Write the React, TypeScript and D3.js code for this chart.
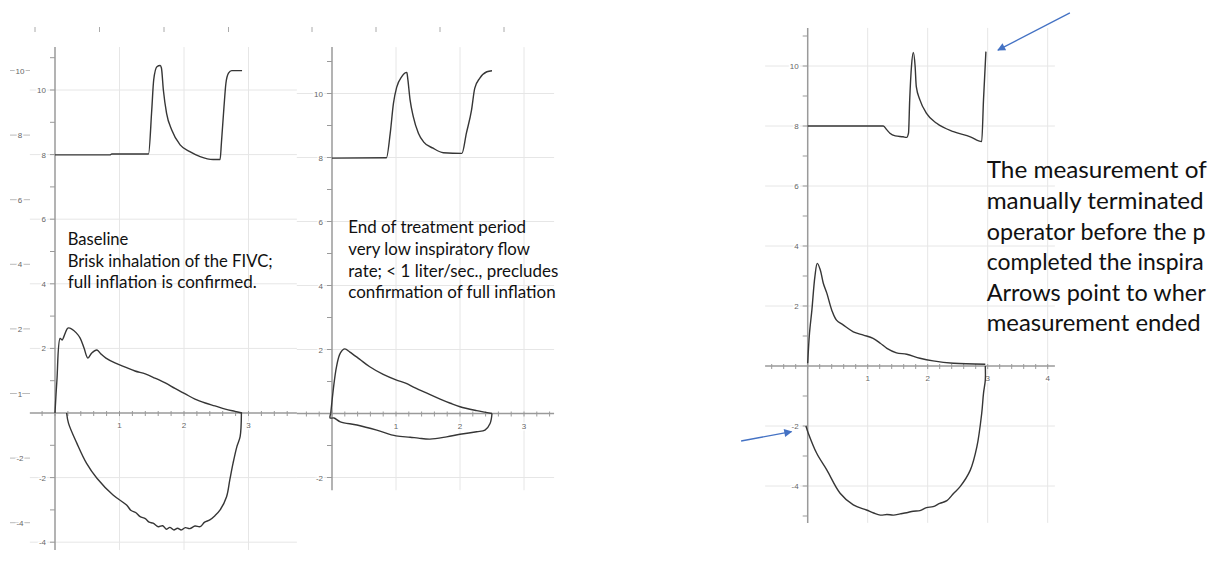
import * as React from 'react';
import * as d3 from 'd3';

type Pt = [number, number];

// Baseline: volume (L) over time (s)
const baseVolTime: Pt[] = [
  [0, 7.99], [0.85, 7.99], [0.88, 8.02], [1.45, 8.02], [1.5, 9.38], [1.53, 10.31],
  [1.58, 10.72], [1.63, 10.76], [1.65, 10.68], [1.68, 10.0], [1.73, 9.28], [1.81, 8.76],
  [1.94, 8.3], [2.09, 8.09], [2.25, 7.94], [2.45, 7.85], [2.56, 7.85], [2.58, 8.36],
  [2.62, 9.48], [2.65, 10.21], [2.69, 10.52], [2.74, 10.6], [2.9, 10.6],
];
// Baseline: flow (L/s) over volume (L), expiration then inspiration
const baseFlowExp: Pt[] = [
  [0, 0], [0.03, 1.02], [0.08, 2.31], [0.11, 2.26], [0.16, 2.48], [0.2, 2.63], [0.26, 2.6],
  [0.33, 2.48], [0.39, 2.32], [0.45, 2.01], [0.51, 1.7], [0.57, 1.86], [0.65, 1.95],
  [0.71, 1.83], [0.79, 1.7], [0.93, 1.55], [1.09, 1.42], [1.24, 1.3], [1.4, 1.21],
  [1.55, 1.08], [1.71, 0.93], [1.86, 0.76], [2.02, 0.59], [2.17, 0.43], [2.33, 0.31],
  [2.48, 0.22], [2.64, 0.12], [2.79, 0.05], [2.9, 0],
];
const baseFlowInsp: Pt[] = [
  [2.89, 0], [2.87, -0.73], [2.82, -1.04], [2.76, -1.56], [2.71, -2.07], [2.66, -2.59],
  [2.56, -3.0], [2.48, -3.18], [2.4, -3.31], [2.32, -3.38], [2.25, -3.52], [2.17, -3.5],
  [2.09, -3.58], [2.02, -3.55], [1.96, -3.62], [1.9, -3.57], [1.84, -3.62], [1.78, -3.54],
  [1.73, -3.6], [1.67, -3.49], [1.6, -3.52], [1.52, -3.41], [1.46, -3.38], [1.4, -3.27],
  [1.32, -3.21], [1.25, -3.08], [1.18, -3.02], [1.11, -2.85], [0.9, -2.54], [0.65, -2.02],
  [0.49, -1.56], [0.34, -0.94], [0.21, -0.32], [0.18, 0],
];

// End of treatment period
const endVolTime: Pt[] = [
  [0, 7.98], [0.85, 7.99], [0.91, 8.76], [0.96, 9.69], [1.01, 10.19], [1.09, 10.53],
  [1.17, 10.66], [1.18, 10.53], [1.22, 9.8], [1.27, 9.28], [1.35, 8.76], [1.43, 8.49],
  [1.58, 8.29], [1.74, 8.15], [2.03, 8.13], [2.1, 8.76], [2.18, 9.48], [2.23, 10.16],
  [2.31, 10.48], [2.42, 10.68], [2.5, 10.71],
];
const endFlowExp: Pt[] = [
  [-0.02, 0], [0.07, 1.46], [0.13, 1.89], [0.2, 2.02], [0.28, 1.92], [0.43, 1.7],
  [0.59, 1.46], [0.8, 1.22], [1.0, 1.05], [1.15, 0.95], [1.3, 0.8], [1.5, 0.62],
  [1.69, 0.45], [1.85, 0.32], [2.0, 0.21], [2.26, 0.09], [2.5, 0],
];
const endFlowInsp: Pt[] = [
  [2.5, 0], [2.47, -0.31], [2.39, -0.52], [2.26, -0.57], [2.0, -0.65], [1.79, -0.73],
  [1.53, -0.8], [1.35, -0.77], [1.22, -0.74], [1.0, -0.7], [0.7, -0.52], [0.39, -0.36],
  [0.13, -0.26], [0.03, -0.14], [-0.03, -0.14], [-0.02, 0],
];

// Manually terminated measurement
const cutVolTime: Pt[] = [
  [0, 8.0], [1.26, 8.0], [1.32, 7.87], [1.37, 7.76], [1.46, 7.67], [1.59, 7.64],
  [1.65, 7.62], [1.68, 7.76], [1.7, 8.87], [1.73, 10.0], [1.76, 10.45], [1.79, 10.0],
  [1.81, 9.31], [1.87, 8.87], [1.98, 8.42], [2.15, 8.09], [2.43, 7.81], [2.71, 7.64],
  [2.9, 7.48], [2.93, 8.87], [2.97, 10.48],
];
const cutFlowExp: Pt[] = [
  [0, 0.09], [0.03, 1.09], [0.07, 1.87], [0.12, 2.98], [0.16, 3.42], [0.21, 3.2],
  [0.26, 2.76], [0.32, 2.42], [0.4, 1.87], [0.48, 1.53], [0.59, 1.37], [0.76, 1.14],
  [0.93, 1.03], [1.09, 0.92], [1.21, 0.76], [1.32, 0.59], [1.48, 0.44], [1.65, 0.39],
  [1.87, 0.26], [2.09, 0.17], [2.43, 0.09], [2.96, 0.06],
];
const cutFlowInsp: Pt[] = [
  [2.96, 0], [2.96, -0.47], [2.93, -0.91], [2.9, -1.58], [2.82, -2.69], [2.71, -3.47],
  [2.54, -4.02], [2.43, -4.25], [2.32, -4.49], [2.2, -4.58], [2.09, -4.69], [1.98, -4.72],
  [1.87, -4.82], [1.76, -4.84], [1.65, -4.89], [1.54, -4.93], [1.43, -4.97], [1.32, -4.95],
  [1.21, -4.97], [1.1, -4.9], [0.98, -4.8], [0.76, -4.63], [0.54, -4.24], [0.32, -3.47],
  [0.15, -2.91], [0.01, -2.24], [-0.03, -2.0],
];

const baseText = ['Baseline', 'Brisk inhalation of the FIVC;', 'full inflation is confirmed.'];
const baseTextWidths = [60.7, 205, 189];
const endText = [
  'End of treatment period',
  'very low inspiratory flow',
  'rate; < 1 liter/sec., precludes',
  'confirmation of full inflation',
];
const endTextWidths = [177.7, 181.7, 210, 207.3];
const cutText = [
  'The measurement of',
  'manually terminated',
  'operator before the p',
  'completed the inspira',
  'Arrows point to wher',
  'measurement ended',
];
const cutTextWidths = [220, 217, 219, 217, 219, 214];

// arrows in the right panel's units: [from, to]
const cutArrows: [Pt, Pt][] = [
  [[4.37, 11.77], [3.17, 10.53]],
  [[-1.11, -2.5], [-0.27, -2.19]],
];

interface PanelDef {
  x0: number; xUnit: number; y0: number; yUnit: number;
  xExt: [number, number]; yExt: [number, number];
  volTime: Pt[]; loops: Pt[][];
  ghostLabels: boolean; ghostTicks: boolean;
}

const GRID = '#e6e6e6';
const AXIS = '#9a9a9a';
const INK = '#363636';
const LBL = '#666';

function scalesOf(p: PanelDef) {
  const x = d3.scaleLinear().domain([0, 1]).range([p.x0, p.x0 + p.xUnit]);
  const y = d3.scaleLinear().domain([0, 1]).range([p.y0, p.y0 - p.yUnit]);
  return { x, y };
}

function Panel({ p }: { p: PanelDef }) {
  const { x, y } = scalesOf(p);
  const timeLine = d3.line<Pt>().x(d => x(d[0])).y(d => y(d[1])).curve(d3.curveMonotoneX);
  const loopLine = d3.line<Pt>().x(d => x(d[0])).y(d => y(d[1])).curve(d3.curveCatmullRom.alpha(0.5));
  const xs = d3.range(Math.ceil(p.xExt[0] * 5), Math.floor(p.xExt[1] * 5) + 1).map(i => i / 5);
  const xGrid = d3.range(1, Math.floor(p.xExt[1]) + 1);
  const yOdd = d3.range(Math.ceil(p.yExt[0]), Math.floor(p.yExt[1]) + 1).filter(v => Math.abs(v % 2) === 1);
  const yEven = d3.range(Math.ceil(p.yExt[0]), Math.floor(p.yExt[1]) + 1).filter(v => v % 2 === 0 && v !== 0);
  const halo = { paintOrder: 'stroke', stroke: '#fff', strokeWidth: 3 } as any;
  return (
    <g>
      {xGrid.map(v => (
        <line key={'vg' + v} x1={x(v)} x2={x(v)} y1={y(p.yExt[1])} y2={y(p.yExt[0])} stroke={GRID} />
      ))}
      {yEven.map(v => (
        <line key={'hg' + v} x1={x(p.xExt[0])} x2={x(p.xExt[1])} y1={y(v)} y2={y(v)} stroke={GRID} />
      ))}
      {/* x axis */}
      <line x1={x(p.xExt[0])} x2={x(p.xExt[1])} y1={y(0)} y2={y(0)} stroke={AXIS} strokeWidth={1.3} />
      {xs.map(v => (
        <line key={'xt' + v} x1={x(v)} x2={x(v)} y1={y(0) - 2} y2={y(0) + 3} stroke={AXIS} />
      ))}
      {xGrid.map(v => (
        <text key={'xl' + v} x={x(v)} y={y(0) + 15} fontSize={8} fill={LBL} textAnchor="middle"
          fontFamily="Liberation Sans, Arial" style={halo}>{v}</text>
      ))}
      {/* y axis */}
      <line x1={x(0)} x2={x(0)} y1={y(p.yExt[1])} y2={y(p.yExt[0])} stroke={AXIS} strokeWidth={1.5} />
      {yOdd.map(v => (
        <line key={'yt' + v} x1={x(0) - 5} x2={x(0)} y1={y(v)} y2={y(v)} stroke={AXIS} />
      ))}
      {yEven.map(v => (
        <g key={'yl' + v}>
          <line x1={x(0) - 5} x2={x(0)} y1={y(v)} y2={y(v)} stroke={AXIS} />
          <text x={x(0) - 9} y={y(v) + 3} fontSize={8} fill={LBL} textAnchor="end"
            fontFamily="Liberation Sans, Arial" style={halo}>{v}</text>
        </g>
      ))}
      {/* left-over copy of the axis, shifted, from the screenshot */}
      {p.ghostTicks && [0, ...xGrid].map(v => (
        <line key={'gt' + v} x1={x(v) - 20} x2={x(v) - 20} y1={27} y2={32} stroke="#aaa" />
      ))}
      {p.ghostLabels && [...yEven, 0].map(v => (
        <g key={'gl' + v}>
          <line x1={10} x2={30} y1={y(v) - 19.5} y2={y(v) - 19.5} stroke="#bbb" />
          <text x={20} y={y(v) - 16.5} fontSize={8} fill={LBL} textAnchor="middle"
            fontFamily="Liberation Sans, Arial" style={halo}>{v === 0 ? '1' : v}</text>
        </g>
      ))}
      <path d={timeLine(p.volTime) || ''} fill="none" stroke={INK} strokeWidth={1.4} strokeLinejoin="round" />
      {p.loops.map((c, i) => (
        <path key={'c' + i} d={loopLine(c) || ''} fill="none" stroke={INK} strokeWidth={1.4}
          strokeLinejoin="round" />
      ))}
    </g>
  );
}

const panelA: PanelDef = {
  x0: 55, xUnit: 64.5, y0: 413, yUnit: 32.3,
  xExt: [-0.39, 3.75], yExt: [-4.24, 11.33],
  volTime: baseVolTime, loops: [baseFlowExp, baseFlowInsp],
  ghostLabels: true, ghostTicks: true,
};
const panelB: PanelDef = {
  x0: 332, xUnit: 64, y0: 413.5, yUnit: 32,
  xExt: [-0.55, 3.47], yExt: [-2.4, 11.45],
  volTime: endVolTime, loops: [endFlowExp, endFlowInsp],
  ghostLabels: false, ghostTicks: true,
};
const panelC: PanelDef = {
  x0: 807.7, xUnit: 60, y0: 366, yUnit: 30,
  xExt: [-0.71, 4.12], yExt: [-5.23, 11.27],
  volTime: cutVolTime, loops: [cutFlowExp, cutFlowInsp],
  ghostLabels: false, ghostTicks: false,
};

function Note({ lines, widths, x, y, size, gap }: {
  lines: string[]; widths: number[]; x: number; y: number; size: number; gap: number;
}) {
  return (
    <g fontSize={size} fill="#111" fontFamily="Lato, 'Open Sans', sans-serif">
      {lines.map((l, i) => (
        <text key={i} x={x} y={y + i * gap} textLength={widths[i]} lengthAdjust="spacingAndGlyphs">{l}</text>
      ))}
    </g>
  );
}

export default function App() {
  const c = scalesOf(panelC);
  return (
    <svg width={1212} height={561} style={{ position: 'absolute', left: 0, top: 0, background: '#fff', overflow: 'hidden' }}>
      <defs>
        <marker id="ah" viewBox="0 0 10 10" refX="9" refY="5" markerWidth="10" markerHeight="8"
          markerUnits="userSpaceOnUse" orient="auto">
          <path d="M0,0 L10,5 L0,10 z" fill="#4472c4" />
        </marker>
      </defs>
      <rect width={1212} height={561} fill="#fff" />
      <Panel p={panelA} />
      <Panel p={panelB} />
      <Panel p={panelC} />
      <Note lines={baseText} widths={baseTextWidths} x={67.7} y={245} size={17.5} gap={21.7} />
      <Note lines={endText} widths={endTextWidths} x={348.3} y={233.3} size={17.5} gap={21.7} />
      <Note lines={cutText} widths={cutTextWidths} x={986.7} y={178.3} size={23} gap={30.6} />
      {cutArrows.map((a, i) => (
        <line key={i} x1={c.x(a[0][0])} y1={c.y(a[0][1])} x2={c.x(a[1][0])} y2={c.y(a[1][1])}
          stroke="#4472c4" strokeWidth={1.3} markerEnd="url(#ah)" />
      ))}
    </svg>
  );
}
